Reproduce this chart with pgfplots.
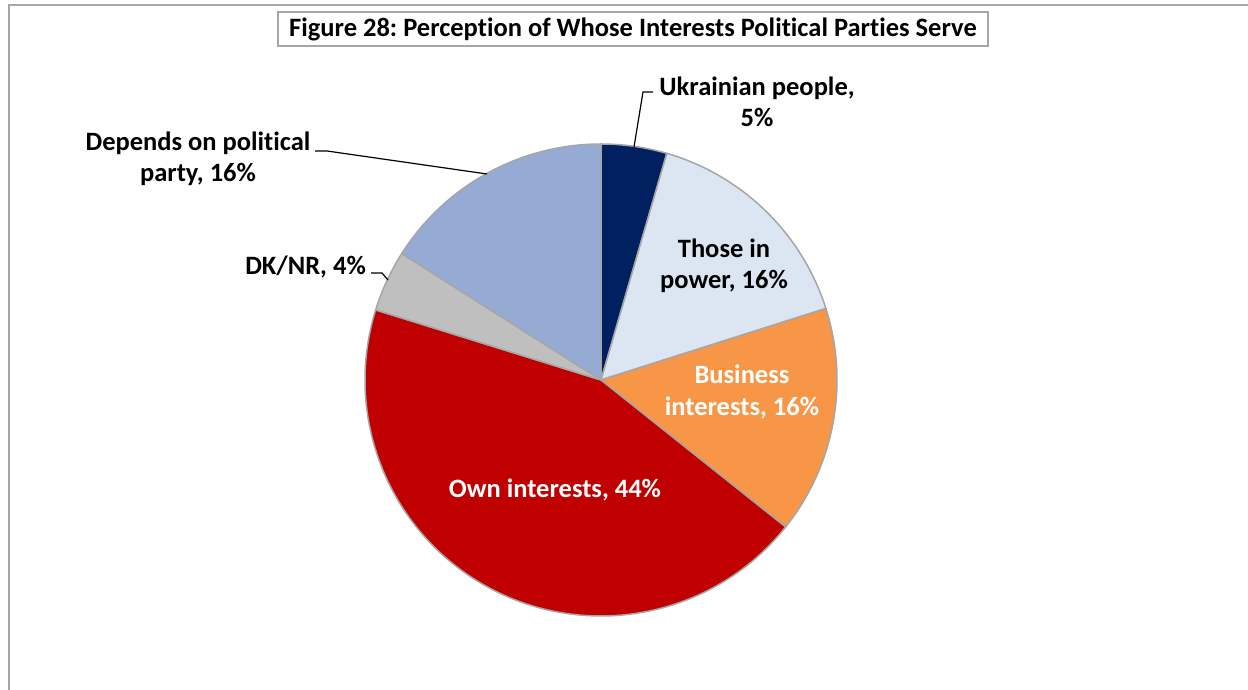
\documentclass[border=0pt]{standalone}
\usepackage{pgfplots}
\pgfplotsset{compat=1.18}
\usepackage{fontspec}
\setmainfont{Carlito}[Ligatures=NoCommon]
\frenchspacing
\definecolor{cUkr}{HTML}{002060}
\definecolor{cPow}{HTML}{DCE6F2}
\definecolor{cBus}{HTML}{F79646}
\definecolor{cOwn}{HTML}{C00000}
\definecolor{cDK}{HTML}{BFBFBF}
\definecolor{cDep}{HTML}{95ABD3}
\definecolor{edge}{HTML}{A6A6A6}
\begin{document}
\begin{tikzpicture}
\path[use as bounding box] (0,0) rectangle (1248pt,690pt);
\begin{axis}[at={(0,0)}, anchor=origin, scale only axis, width=1248pt, height=690pt,
  xmin=0, xmax=1248, ymin=0, ymax=690, hide axis, clip=false]
% frame
\draw[edge, line width=2pt] (axis cs:8.5,-5) -- (axis cs:8.5,684.5) -- (axis cs:1260,684.5);
% pie slices: percentages, clockwise from top
\foreach[remember=\e as \s (initially 90)] \v/\col in {4.5/cUkr,15.6/cPow,15.6/cBus,44.1/cOwn,4.2/cDK,16.0/cDep}{
  \pgfmathsetmacro\e{\s-3.6*\v}
  \edef\temp{\noexpand\fill[\col, draw=edge, line width=1.5pt, line join=round] (axis cs:601,310) -- ++(\s:236pt) arc[start angle=\s, end angle=\e, radius=236pt] -- cycle;}
  \temp
}
% title
\node[draw=edge, line width=1.5pt, fill=white, minimum width=710pt, minimum height=34pt, inner sep=0pt,
  font=\bfseries\fontsize{26.5}{31}\selectfont] at (axis cs:633,661) {Figure 28: Perception of Whose Interests Political Parties Serve};
% labels
\tikzset{lab/.style={align=center, font=\bfseries\fontsize{26.5}{31.5}\selectfont, inner sep=0pt}}
\node[lab] at (axis cs:757,588) {Ukrainian people,\\5\%};
\node[lab] at (axis cs:724,424) {Those in\\power, 16\%};
\node[lab, text=white] at (axis cs:742,298) {Business\\interests, 16\%};
\node[lab, text=white] at (axis cs:555,200) {Own interests, 44\%};
\node[lab, anchor=east] at (axis cs:366,423) {DK/NR, 4\%};
\node[lab] at (axis cs:198,531) {Depends on political\\party, 16\%};
% leader lines
\draw[black, line width=1.2pt] (axis cs:653,598) -- (axis cs:643,598) -- (axis cs:634,543);
\draw[black, line width=1.2pt] (axis cs:371,417) -- (axis cs:382,417) -- (axis cs:388,410);
\draw[black, line width=1.2pt] (axis cs:315,539) -- (axis cs:327,539) -- (axis cs:487,516);
\end{axis}
\end{tikzpicture}
\end{document}
